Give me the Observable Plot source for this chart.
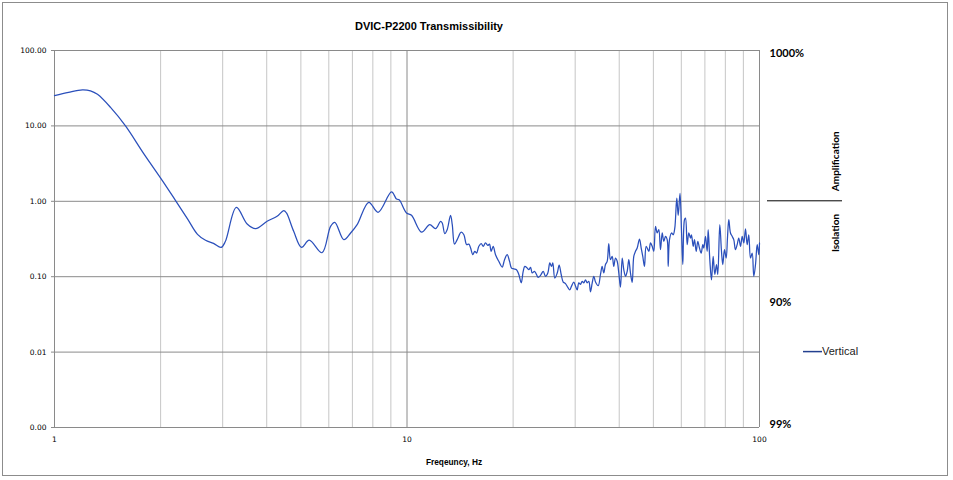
<!DOCTYPE html>
<html>
<head>
<meta charset="utf-8">
<script src="https://cdn.jsdelivr.net/npm/d3@7"></script>
<script src="https://cdn.jsdelivr.net/npm/@observablehq/plot@0.6"></script>
<style>
  html, body { margin: 0; padding: 0; background: #fff; }
  #wrap { position: relative; width: 953px; height: 480px; }
  #border { position: absolute; left: 2px; top: 2px; width: 946px; height: 474px; border: 1px solid #8c8c8c; box-sizing: border-box; }
  #chart { position: absolute; left: 0; top: 0; }
</style>
</head>
<body>
<div id="wrap"><div id="border"></div><div id="chart"></div></div>
<script>
// Frequency (Hz)
const freq = [
  1.00, 1.096, 1.20, 1.265, 1.324, 1.442, 1.59, 1.789, 2.025, 2.203, 2.384, 2.545, 2.682, 2.825, 2.97, 3.05, 3.28, 3.52, 3.72,
  4.01, 4.28, 4.47, 4.55, 4.77, 5.02, 5.28, 5.74, 6.07, 6.24, 6.62, 6.92, 7.22, 7.79, 8.28, 9.04, 9.34, 9.50,
  9.97, 10.3, 11.0, 11.6, 12.05, 12.45, 12.59, 12.80, 13.00, 13.29, 13.44, 13.64, 13.88, 14.25, 14.50, 14.76,
  14.98, 15.15, 15.37, 15.57, 15.75, 15.99, 16.24, 16.45, 16.70, 16.95, 17.14, 17.33, 17.56, 17.83, 18.21,
  18.62, 18.91, 19.24, 19.54, 19.79, 20.09, 20.45, 20.76, 21.09, 21.36, 21.59, 21.93, 22.16, 22.41, 22.66,
  23.00, 23.30, 23.56, 23.92, 24.35, 24.71, 25.09, 25.42, 25.70, 25.92, 26.26, 26.68, 27.02, 27.38, 27.74,
  28.16, 28.59, 28.96, 29.29, 29.73, 30.06, 30.40, 30.72, 31.06, 31.41, 31.74, 32.09, 32.45, 32.79, 33.16,
  33.53, 33.88, 34.26, 34.87, 35.39, 35.78, 36.16, 36.56, 36.97, 37.36, 37.77, 38.20, 38.60, 39.03, 39.47,
  39.89, 40.33, 40.78, 41.21, 41.68, 42.14, 42.58, 43.05, 43.54, 43.99, 44.48, 44.98, 45.66, 46.17, 46.65,
  47.18, 47.70, 48.53, 49.07, 49.61, 50.13, 50.70, 51.26, 51.80, 52.37, 52.97, 53.52, 54.12, 54.72, 55.08,
  55.55, 56.28, 56.91, 57.50, 58.26, 58.80, 59.50, 60.07, 60.59, 61.26, 61.67, 62.36, 63.01, 63.72, 64.13,
  64.85, 65.40, 66.13, 66.83, 67.56, 68.32, 69.04, 69.50, 70.27, 71.05, 71.52, 72.28, 73.08, 73.89, 74.67,
  75.51, 76.14, 77.15, 78.01, 78.67, 79.55, 80.44, 81.12, 81.82, 82.73, 83.65, 84.53, 85.47, 86.42, 87.33,
  88.34, 89.31, 90.25, 91.26, 92.27, 93.24, 94.29, 95.34, 96.34, 97.43, 98.51, 99.54, 100
];
// Transmissibility (ratio)
const vertical = [
  25.2, 27.9, 30.1, 29.2, 26.2, 17.6, 10.0, 4.33, 1.87, 1.03, 0.586, 0.365, 0.304, 0.277, 0.245, 0.29, 0.83, 0.50, 0.434,
  0.543, 0.633, 0.753, 0.70, 0.40, 0.245, 0.305, 0.208, 0.466, 0.527, 0.31, 0.38, 0.49, 0.97, 0.715, 1.33, 1.07, 1.05,
  0.70, 0.652, 0.39, 0.49, 0.434, 0.543, 0.515, 0.373, 0.42, 0.652, 0.49, 0.27, 0.31, 0.39, 0.36, 0.266,
  0.27, 0.24, 0.196, 0.217, 0.206, 0.253, 0.275, 0.253, 0.28, 0.26, 0.27, 0.217, 0.253, 0.196, 0.16,
  0.134, 0.168, 0.196, 0.16, 0.13, 0.127, 0.124, 0.107, 0.083, 0.118, 0.137, 0.13, 0.124, 0.133, 0.112,
  0.118, 0.107, 0.098, 0.104, 0.118, 0.101, 0.112, 0.152, 0.137, 0.152, 0.096, 0.112, 0.142, 0.107, 0.085,
  0.081, 0.072, 0.067, 0.075, 0.085, 0.075, 0.067, 0.083, 0.079, 0.087, 0.083, 0.091, 0.083, 0.087, 0.063,
  0.083, 0.101, 0.085, 0.076, 0.107, 0.137, 0.112, 0.145, 0.16, 0.275, 0.168, 0.186, 0.137, 0.177, 0.16,
  0.112, 0.073, 0.177, 0.124, 0.101, 0.118, 0.168, 0.112, 0.084, 0.186, 0.217, 0.24, 0.316, 0.24, 0.186,
  0.137, 0.253, 0.217, 0.28, 0.253, 0.217, 0.466, 0.38, 0.42, 0.228, 0.38, 0.294, 0.343, 0.31, 0.137,
  0.31, 0.38, 0.36, 0.44, 1.1, 0.65, 1.27, 0.42, 0.145, 0.57, 0.6, 0.266, 0.38, 0.326, 0.36,
  0.253, 0.31, 0.217, 0.294, 0.24, 0.206, 0.266, 0.24, 0.343, 0.217, 0.42, 0.168, 0.091, 0.186, 0.107,
  0.145, 0.107, 0.49, 0.217, 0.145, 0.228, 0.177, 0.326, 0.57, 0.38, 0.343, 0.31, 0.228, 0.266, 0.326,
  0.253, 0.343, 0.28, 0.43, 0.266, 0.36, 0.177, 0.206, 0.101, 0.145, 0.266, 0.196, 0.28
];
const seriesName = "Vertical";
const xMajorTicks = [1, 10, 100];
const xMinorTicks = [2, 3, 4, 5, 6, 7, 8, 9, 20, 30, 40, 50, 60, 70, 80, 90];
const yTicks = [0.001, 0.01, 0.1, 1, 10, 100];
const titleText = "DVIC-P2200 Transmissibility";
const xLabel = "Freqeuncy, Hz";
const pctLabels = ["1000%", "90%", "99%"];
const pctY = [90, 0.046, 0.0011];
const zoneLabels = ["Amplification", "Isolation"];
const zoneY = [3.39, 0.38];

const data = freq.map((f, i) => ({f, t: vertical[i]}));

const darkGrid = "#8a8a8a";
const lightGrid = "#c6c6c6";
const lineColor = "#2a4fbb";

const plot = Plot.plot({
  width: 953,
  height: 480,
  marginLeft: 54,
  marginRight: 194,
  marginTop: 50,
  marginBottom: 53,
  style: {background: "transparent", color: "#000", overflow: "visible"},
  x: {type: "log", domain: [1, 100]},
  y: {type: "log", domain: [0.001, 100]},
  marks: [
    Plot.gridX(xMinorTicks, {stroke: lightGrid, strokeOpacity: 1}),
    Plot.gridX([10, 100], {stroke: darkGrid, strokeOpacity: 1}),
    Plot.gridY(yTicks.slice(1), {stroke: darkGrid, strokeOpacity: 1}),
    Plot.ruleX([1], {stroke: darkGrid}),
    Plot.ruleY([0.001], {stroke: darkGrid}),
    Plot.axisY(yTicks, {tickFormat: d3.format(".2f"), tickSize: 3, tickPadding: 5, stroke: darkGrid,
      fontSize: 7.5, fontFamily: "DejaVu Sans", label: null}),
    Plot.axisX(xMajorTicks, {tickFormat: d => String(d), tickSize: 0, tickPadding: 9,
      fontSize: 7.5, fontFamily: "DejaVu Sans", label: null}),
    Plot.line(data, {x: "f", y: "t", stroke: lineColor, strokeWidth: 1.25, curve: "catmull-rom"}),
    Plot.text([titleText], {frameAnchor: "top", lineAnchor: "middle", dx: 22, dy: -24.5, fontSize: 11, fontWeight: "bold",
      fontFamily: "'Liberation Sans Narrow', 'Arial Narrow', 'Liberation Sans', sans-serif"}),
    Plot.text([xLabel], {frameAnchor: "bottom", lineAnchor: "middle", dx: 47, dy: 34.5, fontSize: 8.3, fontWeight: "bold",
      fontFamily: "'Liberation Sans', sans-serif"}),
    Plot.text(pctLabels, {y: (d, i) => pctY[i], frameAnchor: "right", textAnchor: "start",
      dx: 10, fontSize: 11, fontWeight: "bold", fontFamily: "Lato, 'Open Sans', sans-serif"}),
    Plot.text(zoneLabels, {y: (d, i) => zoneY[i], frameAnchor: "right", textAnchor: "middle", dx: 76, rotate: -90,
      fontSize: 10, fontWeight: "bold", fontFamily: "Lato, 'Open Sans', sans-serif"})
  ]
});

document.getElementById("chart").appendChild(plot);

// divider line at transmissibility = 1 and legend, placed via scales
const svg = d3.select(plot);
const ys = plot.scale("y");
const xs = plot.scale("x");
const right = xs.apply(100);
const yOne = ys.apply(1);
svg.append("line").attr("x1", right + 8).attr("x2", right + 83)
  .attr("y1", yOne).attr("y2", yOne).attr("stroke", "#000").attr("stroke-width", 1);
const yLeg = ys.apply(0.01);
svg.append("line").attr("x1", right + 44).attr("x2", right + 63)
  .attr("y1", yLeg).attr("y2", yLeg).attr("stroke", "#23408f").attr("stroke-width", 1.5);
svg.append("text").attr("x", right + 63).attr("y", yLeg).attr("dy", "0.35em")
  .attr("text-anchor", "start")
  .attr("font-family", "'Liberation Sans', sans-serif").attr("font-size", 11)
  .attr("fill", "#222").text(seriesName);
</script>
</body>
</html>
